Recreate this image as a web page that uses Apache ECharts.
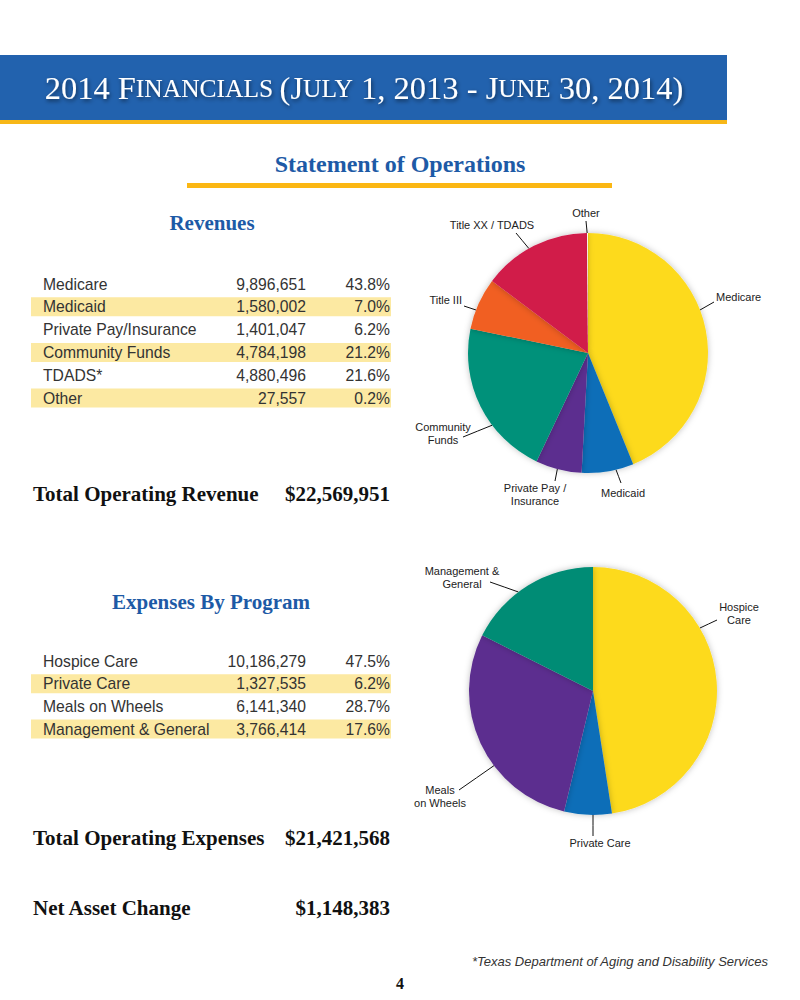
<!DOCTYPE html>
<html><head><meta charset="utf-8">
<script src="https://cdn.jsdelivr.net/npm/echarts@6/dist/echarts.min.js"></script>
<style>html,body{margin:0;padding:0;background:#fff}#main{width:800px;height:1000px}</style>
</head><body><div id="main"></div>
<script>
// ---------- DATA ----------
const revenueCategories = ['Medicare', 'Medicaid', 'Private Pay/Insurance', 'Community Funds', 'TDADS*', 'Other'];
const revenueValues = [9896651, 1580002, 1401047, 4784198, 4880496, 27557];
const revenuePercents = [43.8, 7.0, 6.2, 21.2, 21.6, 0.2];
const revenueTotal = 22569951;

const revenuePieNames = ['Medicare', 'Medicaid', 'Private Pay /\nInsurance', 'Community\nFunds', 'Title III', 'Title XX / TDADS', 'Other'];
const revenuePieValues = [9896651, 1580002, 1401047, 4784198, 1580000, 3300496, 27557];

const expenseCategories = ['Hospice Care', 'Private Care', 'Meals on Wheels', 'Management & General'];
const expenseValues = [10186279, 1327535, 6141340, 3766414];
const expensePercents = [47.5, 6.2, 28.7, 17.6];
const expenseTotal = 21421568;
const netAssetChange = 1148383;

const expensePieNames = ['Hospice\nCare', 'Private Care', 'Meals\non Wheels', 'Management &\nGeneral'];

// ---------- STYLE / LAYOUT ----------
const revenueColors = ['#FDDA1F', '#0B6EB8', '#5C2E8F', '#00917A', '#F15F22', '#D11A4A', '#FFFBEA'];
const expenseColors = ['#FDDA1F', '#0B6EB8', '#5C2E8F', '#008C74'];
// [labelX, labelY, align, leaderAngleDeg, leaderEndX, leaderEndY]
const revenueLabelLayout = [
  [716, 297, 'left', 69, 714, 302],
  [623, 493, 'center', 166.5, 621, 483],
  [535, 494, 'center', 194.8, 555, 481],
  [443, 433, 'center', 233, 463, 437],
  [462, 300, 'right', 291, 464, 306],
  [492, 225, 'center', 330.5, 516, 233],
  [586, 213, 'center', 359.6, 586, 221]
];
const expenseLabelLayout = [
  [739, 613, 'center', 59.5, 717, 620],
  [600, 843, 'center', 180, 593, 836],
  [440, 796, 'center', 233, 459, 790],
  [462, 577, 'center', 323, 490, 582]
];

const fmt = n => n.toLocaleString('en-US');
const SANS = '"Liberation Sans", Arial, sans-serif';
const SERIF = '"Liberation Serif", "Times New Roman", serif';
const BLUE = '#1D5AA6';

function tableGraphics(cats, vals, pcts, y0, step) {
  const els = [];
  cats.forEach((c, i) => {
    const y = y0 + i * step;
    if (i % 2 === 1) els.push({ type: 'rect', shape: { x: 31, y: y - 9.5, width: 360, height: 19 }, style: { fill: '#FCE9A2' } });
    const base = { fontSize: 15.7, fontFamily: SANS, fill: '#333', textVerticalAlign: 'middle' };
    els.push({ type: 'text', x: 43, y: y, style: Object.assign({ text: c, textAlign: 'left' }, base) });
    els.push({ type: 'text', x: 306, y: y, style: Object.assign({ text: fmt(vals[i]), textAlign: 'right' }, base) });
    els.push({ type: 'text', x: 390, y: y, style: Object.assign({ text: pcts[i].toFixed(1) + '%', textAlign: 'right' }, base) });
  });
  return els;
}

function heading(text, x, y, size) {
  return { type: 'text', x: x, y: y, style: { text: text, fontSize: size, fontWeight: 'bold', fontFamily: SERIF, fill: BLUE, textAlign: 'center', textVerticalAlign: 'middle' } };
}
function totalLine(label, value, y) {
  const s = { fontSize: 21, fontWeight: 'bold', fontFamily: SERIF, fill: '#111', textVerticalAlign: 'middle' };
  return [
    { type: 'text', x: 33, y: y, style: Object.assign({ text: label, textAlign: 'left' }, s) },
    { type: 'text', x: 390, y: y, style: Object.assign({ text: '$' + fmt(value), textAlign: 'right' }, s) }
  ];
}

const shadow = { textShadowBlur: 4, textShadowColor: 'rgba(0,0,0,0.55)', textShadowOffsetX: 1, textShadowOffsetY: 2 };
const titleRich = {
  a: Object.assign({ fontSize: 32.5, fontFamily: SERIF, fill: '#fff', color: '#fff' }, shadow),
  b: Object.assign({ fontSize: 25.5, fontFamily: SERIF, fill: '#fff', color: '#fff' }, shadow)
};

const graphics = [
  { type: 'rect', shape: { x: 0, y: 55, width: 727, height: 65 }, style: { fill: '#2262AE' } },
  { type: 'rect', shape: { x: 0, y: 120, width: 727, height: 4 }, style: { fill: '#F7B718' } },
  { type: 'text', x: 364, y: 88, style: { text: '{a|2014 F}{b|INANCIALS }{a|(J}{b|ULY}{a| 1, 2013 - J}{b|UNE}{a| 30, 2014)}', rich: titleRich, fill: '#fff', textAlign: 'center', textVerticalAlign: 'middle' } },
  heading('Statement of Operations', 400, 164, 24),
  { type: 'rect', shape: { x: 187, y: 183, width: 425, height: 5 }, style: { fill: '#FBB713' } },
  heading('Revenues', 212, 223, 21),
  heading('Expenses By Program', 211, 602, 21),
  ...tableGraphics(revenueCategories, revenueValues, revenuePercents, 284, 22.8),
  ...tableGraphics(expenseCategories, expenseValues, expensePercents, 661, 22.7),
  ...totalLine('Total Operating Revenue', revenueTotal, 494),
  ...totalLine('Total Operating Expenses', expenseTotal, 838),
  ...totalLine('Net Asset Change', netAssetChange, 908),
  { type: 'text', x: 768, y: 961, style: { text: '*Texas Department of Aging and Disability Services', fontSize: 13, fontStyle: 'italic', fontFamily: SANS, fill: '#333', textAlign: 'right', textVerticalAlign: 'middle' } },
  { type: 'text', x: 400, y: 983, style: { text: '4', fontSize: 16, fontWeight: 'bold', fontFamily: SERIF, fill: '#111', textAlign: 'center', textVerticalAlign: 'middle' } }
];

function pieSeries(names, values, colors, center, radius, layout) {
  return {
    type: 'pie', center: center, radius: radius, startAngle: 90, clockwise: true,
    avoidLabelOverlap: false, animation: false, silent: true,
    data: names.map((n, i) => ({ name: n, value: values[i], itemStyle: { color: colors[i] } })),
    itemStyle: { shadowBlur: 6, shadowColor: 'rgba(0,0,0,0.25)' },
    label: { show: true, position: 'outside', formatter: '{b}', fontSize: 11, lineHeight: 13, fontFamily: SANS, color: '#222' },
    labelLine: { show: true, length: 10, length2: 6, smooth: false, lineStyle: { color: '#111', width: 1 } },
    labelLayout: function (p) {
      const q = layout[p.dataIndex];
      const a = q[3] * Math.PI / 180;
      const sx = center[0] + radius * Math.sin(a), sy = center[1] - radius * Math.cos(a);
      return {
        x: q[0], y: q[1], align: q[2], verticalAlign: 'middle', hideOverlap: false,
        labelLinePoints: [[sx, sy], [(sx + q[4]) / 2, (sy + q[5]) / 2], [q[4], q[5]]]
      };
    }
  };
}

const chart = echarts.init(document.getElementById('main'), null, { renderer: 'svg' });
chart.setOption({
  animation: false,
  graphic: { elements: graphics },
  series: [
    pieSeries(revenuePieNames, revenuePieValues, revenueColors, [588, 353], 120, revenueLabelLayout),
    pieSeries(expensePieNames, expenseValues, expenseColors, [593, 691], 124, expenseLabelLayout)
  ]
});
</script>
</body></html>
